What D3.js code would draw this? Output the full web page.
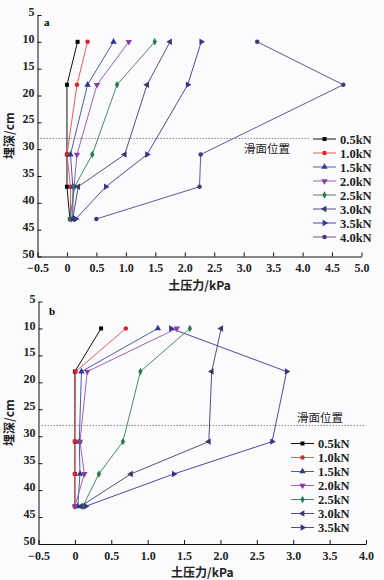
<!DOCTYPE html>
<html>
<head>
<meta charset="utf-8">
<script src="https://cdn.jsdelivr.net/npm/d3@7"></script>
<style>
  body { margin: 0; background: #fbfbfd; }
  svg { display: block; }
  .tick text { font-family: "Liberation Serif", "DejaVu Serif", serif; font-weight: bold; font-size: 12px; fill: #222; }
  .axis path, .axis line { stroke: #111; }
</style>
</head>
<body>
<svg id="fig" width="384" height="580"></svg>
<script>
// depths of the sensors (cm)
var depths = [10, 18, 31, 37, 43];

// panel a
var loadsA = ["0.5kN", "1.0kN", "1.5kN", "2.0kN", "2.5kN", "3.0kN", "3.5kN", "4.0kN"];
var pressA_05 = [0.18, 0.00, 0.00, 0.00, 0.05];
var pressA_10 = [0.35, 0.17, 0.00, 0.06, 0.06];
var pressA_15 = [0.79, 0.35, 0.06, 0.10, 0.10];
var pressA_20 = [1.05, 0.51, 0.17, 0.12, 0.08];
var pressA_25 = [1.49, 0.85, 0.43, 0.13, 0.05];
var pressA_30 = [1.75, 1.36, 0.98, 0.19, 0.10];
var pressA_35 = [2.28, 2.05, 1.36, 0.66, 0.15];
var pressA_40 = [3.23, 4.69, 2.27, 2.25, 0.50];

// panel b
var loadsB = ["0.5kN", "1.0kN", "1.5kN", "2.0kN", "2.5kN", "3.0kN", "3.5kN"];
var pressB_05 = [0.36, 0.00, 0.00, 0.00, 0.00];
var pressB_10 = [0.70, 0.01, 0.00, 0.00, 0.00];
var pressB_15 = [1.14, 0.09, 0.06, 0.07, 0.04];
var pressB_20 = [1.40, 0.17, 0.07, 0.13, 0.00];
var pressB_25 = [1.58, 0.90, 0.66, 0.33, 0.11];
var pressB_30 = [2.01, 1.88, 1.84, 0.77, 0.08];
var pressB_35 = [1.32, 2.91, 2.71, 1.36, 0.15];

var slideDepth = 28;
var xTicksA = [-0.5, 0, 0.5, 1, 1.5, 2, 2.5, 3, 3.5, 4, 4.5, 5];
var xTicksB = [-0.5, 0, 0.5, 1, 1.5, 2, 2.5, 3, 3.5, 4];
var yTicks = [5, 10, 15, 20, 25, 30, 35, 40, 45, 50];

// styling per load
var markColor = ["#000000", "#e3222c", "#2b3a92", "#8a3f9e", "#2d7a4c", "#38386e", "#35358f", "#4e3478"];
var lineColor = ["#111111", "#ef5a5a", "#4c5aae", "#9a62b4", "#4a8a62", "#505082", "#4a4aa0", "#6a5592"];
var shapes = [
  {s: d3.symbolSquare, r: 0, size: 16},
  {s: d3.symbolCircle, r: 0, size: 16},
  {s: d3.symbolTriangle, r: 0, size: 18},
  {s: d3.symbolTriangle, r: 180, size: 18},
  {s: d3.symbolDiamond, r: 0, size: 16},
  {s: d3.symbolTriangle, r: -90, size: 18},
  {s: d3.symbolTriangle, r: 90, size: 18},
  {s: d3.symbolCircle, r: 0, size: 16}
];

var svg = d3.select("#fig");

function panel(o) {
  var x = d3.scaleLinear().domain(o.xd).range([o.left, o.right]);
  var y = d3.scaleLinear().domain([5, 50]).range([o.top, o.bottom]);
  var g = svg.append("g");

  g.append("g").attr("class", "axis")
    .attr("transform", "translate(0," + o.bottom + ")")
    .call(d3.axisBottom(x).tickValues(o.xt).tickSizeInner(-4).tickSizeOuter(0).tickPadding(7)
      .tickFormat(function(d) { return d === 0 ? "0" : d3.format(".1f")(d).replace("-", "\u2212"); }));
  g.append("g").attr("class", "axis")
    .attr("transform", "translate(" + o.left + ",0)")
    .call(d3.axisLeft(y).tickValues(yTicks).tickSizeInner(-4).tickSizeOuter(0).tickPadding(3))
    .selectAll(".tick text").attr("dy", "0.05em");

  // slide surface
  g.append("line")
    .attr("x1", o.left).attr("x2", o.slideEnd)
    .attr("y1", y(slideDepth)).attr("y2", y(slideDepth))
    .attr("stroke", "#888").attr("stroke-width", 1).attr("stroke-dasharray", "1.5,1.5");
  g.append("text").attr("x", o.slideLabel[0]).attr("y", o.slideLabel[1])
    .attr("text-anchor", "middle")
    .style("font-family", "'Noto Sans CJK SC', sans-serif").style("font-size", "11.5px").style("fill", "#222")
    .text("滑面位置");

  var line = d3.line()
    .x(function(d) { return x(d[0]); })
    .y(function(d) { return y(d[1]); });

  o.series.forEach(function(vals, i) {
    var pts = vals.map(function(v, k) { return [v, depths[k]]; });
    g.append("path").attr("d", line(pts)).attr("fill", "none")
      .attr("stroke", lineColor[i]).attr("stroke-width", 1);
  });
  o.series.forEach(function(vals, i) {
    var sh = shapes[i];
    g.selectAll(null).data(vals).enter().append("path")
      .attr("d", d3.symbol().type(sh.s).size(sh.size))
      .attr("transform", function(v, k) { return "translate(" + x(v) + "," + y(depths[k]) + ") rotate(" + sh.r + ")"; })
      .attr("fill", markColor[i]);
  });

  // legend
  var lg = g.append("g");
  o.loads.forEach(function(name, i) {
    var yy = o.legend[1] + i * 14;
    lg.append("line").attr("x1", o.legend[0]).attr("x2", o.legend[0] + 23)
      .attr("y1", yy).attr("y2", yy).attr("stroke", lineColor[i]).attr("stroke-width", 1);
    lg.append("path").attr("d", d3.symbol().type(shapes[i].s).size(shapes[i].size))
      .attr("transform", "translate(" + (o.legend[0] + 11.5) + "," + yy + ") rotate(" + shapes[i].r + ")")
      .attr("fill", markColor[i]);
    lg.append("text").attr("x", o.legend[0] + 27).attr("y", yy + 4.5)
      .style("font-family", "'Liberation Serif', serif").style("font-weight", "bold")
      .style("font-size", "12.5px").style("fill", "#222")
      .text(name);
  });

  // panel letter
  g.append("text").attr("x", o.letter[0]).attr("y", o.letter[1])
    .style("font-family", "'Liberation Serif', serif").style("font-weight", "bold")
    .style("font-size", "11px").text(o.name);

  // axis titles
  g.append("text")
    .attr("transform", "translate(" + 14 + "," + ((o.top + o.bottom) / 2) + ") rotate(-90)")
    .attr("text-anchor", "middle")
    .style("font-family", "'Noto Sans CJK SC', sans-serif").style("font-weight", "bold")
    .style("font-size", "12px").style("fill", "#222")
    .text("埋深/cm");
  g.append("text").attr("x", (o.left + o.right) / 2).attr("y", o.bottom + 33)
    .attr("text-anchor", "middle")
    .style("font-family", "'Noto Sans CJK SC', sans-serif").style("font-weight", "bold")
    .style("font-size", "12px").style("fill", "#222")
    .text("土压力/kPa");
}

panel({
  name: "a", xd: [-0.5, 5], xt: xTicksA,
  left: 37.5, right: 361.5, top: 15, bottom: 256.5,
  slideEnd: 310, slideLabel: [267, 153],
  legend: [313, 139], letter: [44, 26],
  loads: loadsA,
  series: [pressA_05, pressA_10, pressA_15, pressA_20, pressA_25, pressA_30, pressA_35, pressA_40]
});

panel({
  name: "b", xd: [-0.5, 4], xt: xTicksB,
  left: 38.5, right: 366, top: 301.5, bottom: 544,
  slideEnd: 366, slideLabel: [320, 422],
  legend: [291, 443.5], letter: [49, 315],
  loads: loadsB,
  series: [pressB_05, pressB_10, pressB_15, pressB_20, pressB_25, pressB_30, pressB_35]
});
</script>
</body>
</html>
